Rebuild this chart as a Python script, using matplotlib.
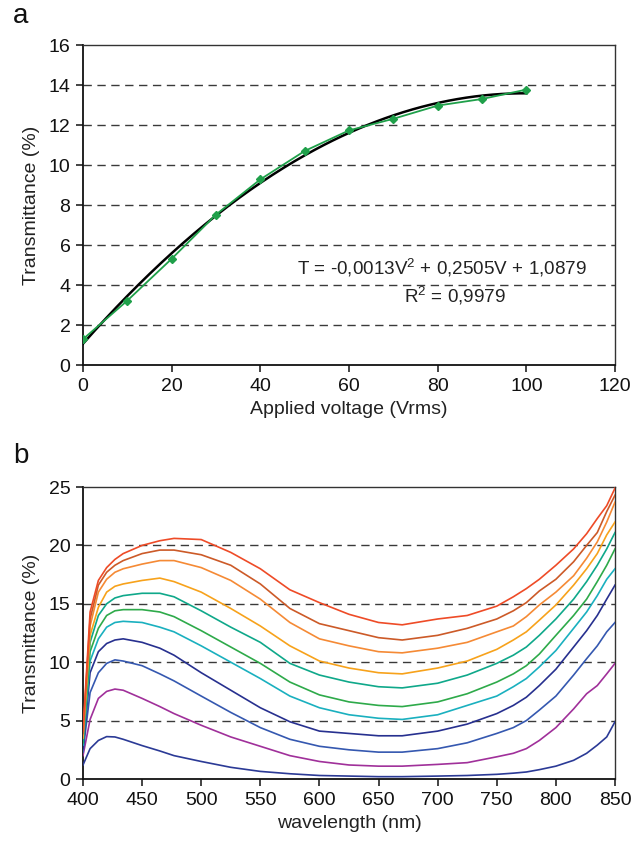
import numpy as np
import matplotlib
matplotlib.use("Agg")
import matplotlib.pyplot as plt

plt.rcParams['font.family'] = ['Liberation Sans', 'DejaVu Sans']
plt.rcParams['mathtext.fontset'] = 'custom'
plt.rcParams['mathtext.rm'] = 'Liberation Sans'
plt.rcParams['mathtext.it'] = 'Liberation Sans'
plt.rcParams['mathtext.bf'] = 'Liberation Sans'

# ---------------- Panel a data ----------------
voltage = [0, 10, 20, 30, 40, 50, 60, 70, 80, 90, 100]
transmittance_a = [1.29, 3.22, 5.31, 7.52, 9.28, 10.70, 11.73, 12.31, 12.97, 13.30, 13.77]
eq_text = "T = -0,0013V$^{\\mathrm{2}}$ + 0,2505V + 1,0879"
r2_text = "R$^{\\mathrm{2}}$ = 0,9979"

# ---------------- Panel b data ----------------
wavelength = [400, 406, 413, 420, 427, 434, 450, 465, 477, 500, 525, 550, 575, 600, 625,
              650, 670, 700, 725, 750, 764, 775, 786, 800, 815, 826, 835, 843, 850]
curve_01 = [1.2, 2.6, 3.3, 3.63, 3.6, 3.4, 2.86, 2.4, 2.0, 1.5, 1.0, 0.65, 0.45, 0.3, 0.25,
            0.2, 0.2, 0.25, 0.3, 0.4, 0.5, 0.6, 0.8, 1.1, 1.6, 2.2, 2.9, 3.6, 4.9]
curve_02 = [2.0, 5.1, 6.9, 7.5, 7.7, 7.6, 6.9, 6.2, 5.6, 4.6, 3.6, 2.8, 2.0, 1.5, 1.2,
            1.1, 1.1, 1.25, 1.4, 1.9, 2.2, 2.6, 3.3, 4.4, 6.0, 7.3, 8.0, 9.0, 9.9]
curve_03 = [2.3, 7.4, 9.1, 9.9, 10.2, 10.1, 9.7, 9.0, 8.4, 7.1, 5.7, 4.4, 3.4, 2.8, 2.5,
            2.3, 2.3, 2.6, 3.1, 3.9, 4.4, 5.0, 5.9, 7.1, 8.9, 10.3, 11.4, 12.6, 13.4]
curve_04 = [2.6, 9.1, 10.9, 11.6, 11.9, 12.0, 11.7, 11.2, 10.6, 9.1, 7.6, 6.1, 4.9, 4.1, 3.9,
            3.7, 3.7, 4.1, 4.7, 5.6, 6.3, 7.0, 8.0, 9.4, 11.3, 12.7, 14.0, 15.4, 16.6]
curve_05 = [2.9, 10.1, 12.0, 13.0, 13.4, 13.5, 13.4, 13.0, 12.6, 11.4, 10.0, 8.6, 7.1, 6.1, 5.5,
            5.2, 5.1, 5.5, 6.3, 7.1, 7.9, 8.6, 9.6, 11.0, 12.9, 14.3, 15.7, 17.1, 18.0]
curve_06 = [3.1, 10.9, 12.9, 14.0, 14.4, 14.5, 14.5, 14.3, 13.9, 12.7, 11.3, 9.9, 8.3, 7.2, 6.6,
            6.3, 6.2, 6.6, 7.3, 8.3, 9.0, 9.7, 10.7, 12.3, 14.0, 15.4, 16.9, 18.3, 19.7]
curve_07 = [3.3, 11.7, 14.0, 15.0, 15.5, 15.7, 15.9, 15.9, 15.6, 14.4, 13.0, 11.7, 9.9, 8.9, 8.3,
            7.9, 7.8, 8.2, 8.9, 9.9, 10.6, 11.3, 12.3, 13.7, 15.4, 16.9, 18.3, 19.7, 21.1]
curve_08 = [3.5, 12.3, 14.7, 16.0, 16.5, 16.7, 17.0, 17.2, 16.9, 16.0, 14.6, 13.1, 11.4, 10.1, 9.5,
            9.1, 9.0, 9.5, 10.1, 11.1, 11.9, 12.6, 13.6, 14.9, 16.6, 18.0, 19.3, 20.9, 22.0]
curve_09 = [3.7, 13.1, 16.0, 17.1, 17.7, 18.0, 18.4, 18.7, 18.7, 18.1, 17.0, 15.4, 13.4, 12.0, 11.4,
            10.9, 10.8, 11.2, 11.7, 12.6, 13.1, 13.9, 14.9, 16.0, 17.4, 18.9, 20.3, 22.0, 23.7]
curve_10 = [3.9, 13.7, 16.6, 17.7, 18.3, 18.7, 19.3, 19.6, 19.6, 19.2, 18.3, 16.7, 14.6, 13.3, 12.7,
            12.1, 11.9, 12.3, 12.9, 13.7, 14.4, 15.1, 16.1, 17.1, 18.6, 20.0, 21.1, 22.9, 24.3]
curve_11 = [4.1, 14.3, 17.0, 18.1, 18.8, 19.3, 20.0, 20.4, 20.6, 20.5, 19.4, 18.0, 16.2, 15.1, 14.1,
            13.4, 13.2, 13.7, 14.0, 14.8, 15.6, 16.3, 17.1, 18.3, 19.7, 21.0, 22.3, 23.4, 24.9]

curves = [curve_01, curve_02, curve_03, curve_04, curve_05, curve_06,
          curve_07, curve_08, curve_09, curve_10, curve_11]
colors = ['#2b3a96', '#a0309a', '#3558b0', '#27308f', '#1ab0bf', '#2eaa4a',
          '#0fa88a', '#f7a21b', '#f58a35', '#cc5a28', '#ee4b27']

FS = 14

fig = plt.figure(figsize=(6.44, 8.46), dpi=100)
W, H = 644, 846

def add_axes(l, r, t, b):
    return fig.add_axes([l / W, 1 - b / H, (r - l) / W, (b - t) / H])

ax1 = add_axes(83, 615, 45, 365)
ax2 = add_axes(83, 615, 487, 779)

def style(ax):
    for s in ['left', 'bottom']:
        ax.spines[s].set_color('#111111')
        ax.spines[s].set_linewidth(1.3)
    for s in ['top', 'right']:
        ax.spines[s].set_color('#333333')
        ax.spines[s].set_linewidth(1.0)
    ax.tick_params(direction='out', length=5, width=1.1, labelsize=FS,
                   colors='#111111', top=False, right=False, pad=4)

# ---- panel a ----
style(ax1)
for yv in range(2, 16, 2):
    ax1.axhline(yv, color='#3a3a3a', lw=1.0, dashes=(6, 4), zorder=1)
coef = np.polyfit(voltage, transmittance_a, 2)
vfit = np.linspace(voltage[0], voltage[-1], 200)
ax1.plot(vfit, np.polyval(coef, vfit), color='black', lw=1.8, zorder=3)
ax1.plot(voltage, transmittance_a, color='#1fa04a', lw=1.3, marker='D',
         markersize=4.5, zorder=4)
ax1.set_xlim(0, 120)
ax1.set_ylim(0, 16)
ax1.set_xticks(range(0, 121, 20))
ax1.set_yticks(range(0, 17, 2))
ax1.set_xlabel('Applied voltage (Vrms)', fontsize=FS, color='#222222', labelpad=5)
ax1.set_ylabel('Transmittance (%)', fontsize=FS, color='#222222', labelpad=6)
ax1.text(113.7, 4.85, eq_text, ha='right', va='center', fontsize=13.6, color='#222222')
ax1.text(83.9, 3.45, r2_text, ha='center', va='center', fontsize=13.6, color='#222222')

# ---- panel b ----
style(ax2)
for yv in [5, 10, 15, 20]:
    ax2.axhline(yv, color='#3a3a3a', lw=1.0, dashes=(6, 4), zorder=1)
for c, col in zip(curves, colors):
    ax2.plot(wavelength, c, color=col, lw=1.2, zorder=3)
ax2.set_xlim(400, 850)
ax2.set_ylim(0, 25)
ax2.set_xticks(range(400, 851, 50))
ax2.set_yticks(range(0, 26, 5))
ax2.set_xlabel('wavelength (nm)', fontsize=FS, color='#222222', labelpad=5)
ax2.set_ylabel('Transmittance (%)', fontsize=FS, color='#222222', labelpad=6)

fig.text(13 / W, 1 - 16 / H, 'a', fontsize=20, ha='left', va='center', color='#111111')
fig.text(13 / W, 1 - 456 / H, 'b', fontsize=20, ha='left', va='center', color='#111111')

fig.savefig('out.png', dpi=100, facecolor='white')
